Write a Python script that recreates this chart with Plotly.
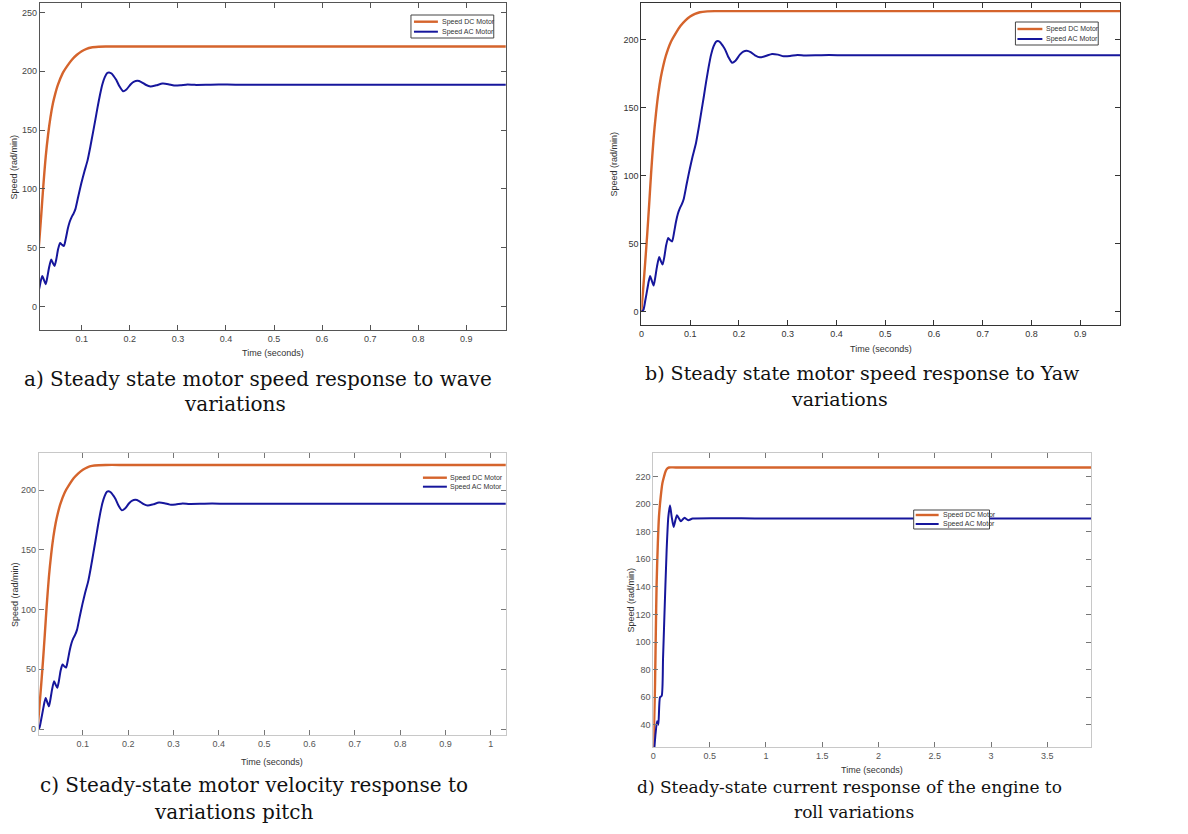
import plotly.graph_objects as go

# ---------------- data ----------------
# shared simulation used for panels a), b), c)  (time in seconds, speed rad/min)
t_dc = [0, 0.004, 0.008, 0.012, 0.016, 0.020, 0.025, 0.030, 0.035, 0.040,
        0.045, 0.050, 0.060, 0.070, 0.080, 0.090, 0.100, 0.110, 0.120, 0.135,
        0.150, 0.200, 0.400, 0.700, 1.05]
speed_dc = [0, 18, 37, 57, 79, 102, 127, 146, 161, 172.5,
            181, 188, 198, 204.5, 210, 214, 217, 219, 220.2, 220.8,
            221, 221, 221, 221, 221]

t_ac = [0, 0.004, 0.008, 0.012, 0.015, 0.018, 0.021, 0.025, 0.028, 0.032,
        0.0365, 0.040, 0.0435, 0.047, 0.051, 0.055, 0.059, 0.063, 0.067, 0.071,
        0.075, 0.079, 0.083, 0.087, 0.093, 0.099, 0.105, 0.112, 0.118, 0.123,
        0.128, 0.133, 0.138, 0.143, 0.148, 0.153, 0.157, 0.162, 0.167, 0.172,
        0.178, 0.186, 0.193, 0.202, 0.209, 0.216, 0.224, 0.233, 0.243, 0.255,
        0.268, 0.280, 0.292, 0.305, 0.320, 0.335, 0.360, 0.385, 0.420, 0.700, 1.05]
speed_ac = [0, 1, 8, 16, 22, 26, 23, 19, 24, 33,
            40, 37, 34.5, 40, 49, 54, 52.5, 51.5, 58, 66,
            72, 76, 79, 83, 94, 104.5, 114, 124, 136, 147,
            158, 169.5, 180, 189, 195, 198.5, 199, 198, 195.5, 192.5,
            187.5, 183, 184.5, 189, 191.2, 191.8, 190.8, 188.5, 187, 188,
            189.5, 189, 187.8, 188, 188.8, 188.4, 188.5, 188.7, 188.5, 188.5, 188.5]

# panel d) roll variations (longer simulation)
t_roll_dc = [0, 0.008, 0.015, 0.022, 0.029, 0.040, 0.050, 0.065, 0.080, 0.095,
             0.110, 0.125, 0.140, 0.200, 1.0, 3.95]
speed_roll_dc = [20, 45, 70, 108, 142, 172, 191, 205, 215, 220,
                 224, 225.8, 226.5, 226.5, 226.5, 226.5]
t_roll_ac = [0, 0.009, 0.020, 0.033, 0.044, 0.059, 0.074, 0.086, 0.098, 0.118,
             0.133, 0.148, 0.163, 0.180, 0.195, 0.210, 0.228, 0.245, 0.275, 0.310,
             0.350, 1.0, 3.95]
speed_roll_ac = [15, 23.4, 34, 42.6, 40.2, 60, 61, 88, 118.5, 166.6,
                 190.7, 199, 190.7, 183.4, 188, 191.9, 189.5, 187.5, 190, 188.3,
                 189.5, 189.5, 189.5]

series_names = ["Speed DC Motor", "Speed AC Motor"]
x_title = "Time (seconds)"
y_title = "Speed (rad/min)"
captions = [
    ["a) Steady state motor speed response to wave", "variations"],
    ["b) Steady state motor speed response to Yaw", "variations"],
    ["c) Steady-state motor velocity response to", "variations pitch"],
    ["d) Steady-state current response of the engine to", "roll variations"],
]

# ---------------- layout helpers ----------------
W, H = 1188, 834
ORANGE = "#D5642C"
BLUE = "#16169C"


def px_x(x):
    return x / W


def px_y(y):
    return 1 - y / H


panels = [
    dict(box=(37, 504, 3, 330), xr=[0.013, 0.982], yr=[-20, 258], xd=0.1, yd=50,
         line="#555555", tick="#555555", font="#444444",
         data=(t_dc, speed_dc, t_ac, speed_ac),
         ytitle_x=12, xtitle_y=353,
         leg=dict(box=(409, 492, 15, 38), lx=(412, 436), ly=(21.7, 31.7), tx=438, border=True),
         cap=[(256, 379), (233, 404)], capsize=20),
    dict(box=(640, 1120, 3, 325), xr=[0.0, 0.982], yr=[-10, 227], xd=0.1, yd=50,
         line="#333333", tick="#333333", font="#333333",
         data=(t_dc, speed_dc, t_ac, speed_ac),
         ytitle_x=613, xtitle_y=349,
         leg=dict(box=(1015, 1098, 22, 45), lx=(1017, 1042), ly=(29, 39), tx=1044, border=True),
         cap=[(862, 373), (839, 399)], capsize=19),
    dict(box=(36, 504, 453, 735), xr=[0.003, 1.033], yr=[-5, 231], xd=0.1, yd=50,
         line="#C8C8C8", tick="#777777", font="#555555",
         data=(t_dc, speed_dc, t_ac, speed_ac),
         ytitle_x=12, xtitle_y=762,
         leg=dict(box=None, lx=(421, 445), ly=(477.7, 486.7), tx=446, border=False),
         cap=[(252, 785), (232, 812)], capsize=20),
    dict(box=(652, 1091, 453, 747), xr=[0.0, 3.89], yr=[24, 237], xd=0.5, yd=20,
         line="#C8C8C8", tick="#777777", font="#555555",
         data=(t_roll_dc, speed_roll_dc, t_roll_ac, speed_roll_ac),
         ytitle_x=630, xtitle_y=770,
         leg=dict(box=(913, 989, 510, 529), lx=(915, 938), ly=(515, 524), tx=940, border=True),
         cap=[(849, 787), (853, 812)], capsize=17),
]

fig = go.Figure()
shapes = []
annotations = []

for i, p in enumerate(panels, start=1):
    sfx = "" if i == 1 else str(i)
    L, R, T, B = p["box"]
    tdc, vdc, tac, vac = p["data"]
    fig.add_trace(go.Scatter(x=tdc, y=vdc, mode="lines", name=series_names[0],
                             line=dict(color=ORANGE, width=2.4, shape="spline", smoothing=0.8),
                             xaxis="x" + sfx, yaxis="y" + sfx, showlegend=False))
    fig.add_trace(go.Scatter(x=tac, y=vac, mode="lines", name=series_names[1],
                             line=dict(color=BLUE, width=2.0, shape="spline", smoothing=0.6),
                             xaxis="x" + sfx, yaxis="y" + sfx, showlegend=False))

    common = dict(showgrid=False, zeroline=False, ticks="inside", ticklen=5,
                  showline=True, mirror="ticks", linecolor=p["line"], linewidth=1,
                  tickcolor=p["tick"], tickfont=dict(family="Liberation Sans", size=9, color=p["font"]))
    fig.update_layout(**{
        "xaxis" + sfx: dict(domain=[px_x(L), px_x(R)], range=p["xr"], dtick=p["xd"], tick0=0,
                            anchor="y" + sfx, **common),
        "yaxis" + sfx: dict(domain=[px_y(B), px_y(T)], range=p["yr"], dtick=p["yd"], tick0=0,
                            anchor="x" + sfx, **common),
    })

    # axis titles
    annotations.append(dict(text=y_title, xref="paper", yref="paper",
                            x=px_x(p["ytitle_x"]), y=px_y((T + B) / 2), textangle=-90,
                            showarrow=False, xanchor="center", yanchor="middle",
                            font=dict(family="Liberation Sans", size=9, color="#333333")))
    annotations.append(dict(text=x_title, xref="paper", yref="paper",
                            x=px_x((L + R) / 2), y=px_y(p["xtitle_y"]),
                            showarrow=False, xanchor="center", yanchor="middle",
                            font=dict(family="Liberation Sans", size=9, color="#333333")))

    # compact MATLAB-style legend box
    lg = p["leg"]
    if lg["box"] is not None:
        bx0, bx1, by0, by1 = lg["box"]
        shapes.append(dict(type="rect", xref="paper", yref="paper",
                           x0=px_x(bx0), x1=px_x(bx1), y0=px_y(by1), y1=px_y(by0),
                           line=dict(color="#444444", width=1), fillcolor="white", layer="above"))
    for name, col, ly, w in zip(series_names, [ORANGE, BLUE], lg["ly"], [2.4, 2.0]):
        shapes.append(dict(type="line", xref="paper", yref="paper",
                           x0=px_x(lg["lx"][0]), x1=px_x(lg["lx"][1]), y0=px_y(ly), y1=px_y(ly),
                           line=dict(color=col, width=w), layer="above"))
        annotations.append(dict(text=name, xref="paper", yref="paper",
                                x=px_x(lg["tx"]), y=px_y(ly), showarrow=False,
                                xanchor="left", yanchor="middle",
                                font=dict(family="Liberation Sans", size=7, color="#333333")))

    # figure caption under the panel
    for (cx, cy), line_txt in zip(p["cap"], captions[i - 1]):
        annotations.append(dict(text=line_txt, xref="paper", yref="paper",
                                x=px_x(cx), y=px_y(cy), showarrow=False,
                                xanchor="center", yanchor="middle",
                                font=dict(family="DejaVu Serif", size=p["capsize"], color="#111111")))

fig.update_layout(width=W, height=H, margin=dict(l=0, r=0, t=0, b=0),
                  paper_bgcolor="white", plot_bgcolor="white",
                  shapes=shapes, annotations=annotations, showlegend=False)

fig.write_html("out.html")
